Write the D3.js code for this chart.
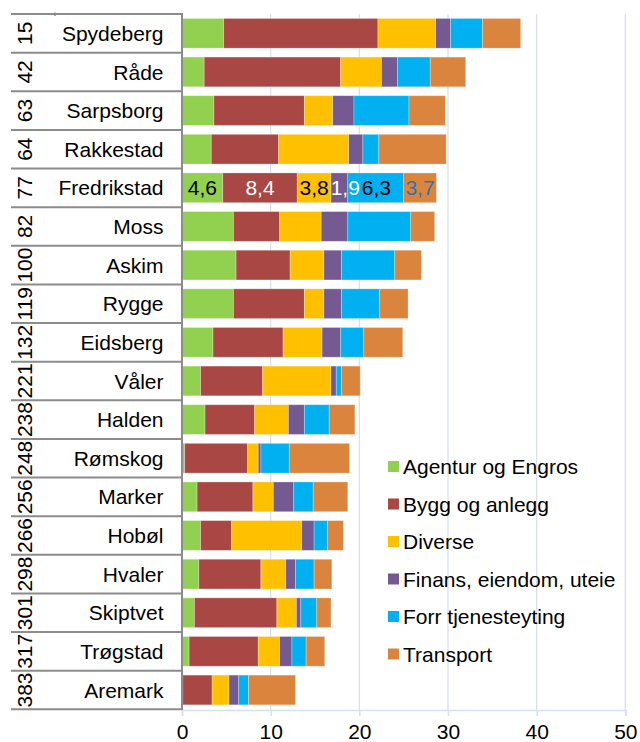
<!DOCTYPE html>
<html><head><meta charset="utf-8">
<script src="https://cdn.jsdelivr.net/npm/d3@7"></script>
<style>body{margin:0;background:#fff}svg{display:block;font-family:"Liberation Sans",Arial,sans-serif}</style>
</head><body>
<svg id="c" width="640" height="742"></svg>
<script>
const names = ["Spydeberg","Råde","Sarpsborg","Rakkestad","Fredrikstad","Moss","Askim","Rygge","Eidsberg","Våler","Halden","Rømskog","Marker","Hobøl","Hvaler","Skiptvet","Trøgstad","Aremark"];
const ranks = [15,42,63,64,77,82,100,119,132,221,238,248,256,266,298,301,317,383];
const seriesNames = ["Agentur og Engros","Bygg og anlegg","Diverse","Finans, eiendom, uteie","Forr tjenesteyting","Transport"];
const agentur   = [4.7,2.5,3.6,3.3,4.6,5.8,6.1,5.8,3.5,2.1,2.6,0.3,1.7,2.1,1.9,1.4,0.8,0.1];
const bygg      = [17.4,15.4,10.2,7.6,8.4,5.2,6.1,8.0,7.9,7.0,5.6,7.1,6.3,3.5,7.0,9.3,7.8,3.3];
const diverse   = [6.5,4.6,3.2,7.9,3.8,4.7,3.8,2.2,4.4,7.7,3.8,1.2,2.3,7.9,2.8,2.2,2.4,1.9];
const finans    = [1.7,1.8,2.4,1.6,1.9,3.0,2.0,2.0,2.1,0.6,1.8,0.3,2.3,1.4,1.1,0.5,1.4,1.1];
const forr      = [3.6,3.7,6.2,1.8,6.3,7.1,6.0,4.3,2.6,0.6,2.8,3.2,2.2,1.5,2.1,1.8,1.6,1.1];
const transport = [4.3,4.0,4.1,7.6,3.7,2.7,3.0,3.2,4.4,2.1,2.9,6.8,3.9,1.8,2.0,1.6,2.1,5.3];
const xTicks = [0,10,20,30,40,50];
const labelledRow = "Fredrikstad";
const colors = ["#92d050","#a94745","#ffc000","#745a91","#00b0f0","#db843d"];
const labelColors = ["#000","#fff","#000","#fff","#000","#2e75b6"];

const seriesVals = [agentur,bygg,diverse,finans,forr,transport];
const rows = names.map((n,i)=>{const o={name:n,rank:ranks[i]};seriesNames.forEach((s,k)=>o[s]=seriesVals[k][i]);return o;});
const stack = d3.stack().keys(seriesNames)(rows);

const svg = d3.select("#c");
const F = 21;
const x = d3.scaleLinear().domain([0,50]).range([182,625.3]);
const y = d3.scaleBand().domain(names).range([14,709.3]).paddingInner(0.23).paddingOuter(0.115);
const step = y.step();

// gridlines
svg.append("g").selectAll("line").data(xTicks.slice(1)).join("line")
  .attr("x1",d=>x(d)).attr("x2",d=>x(d)).attr("y1",14).attr("y2",710)
  .attr("stroke","#d7e0ee").attr("stroke-width",1.3);

// x axis
const xa = svg.append("g").attr("transform","translate(0,710)")
  .call(d3.axisBottom(x).tickValues(xTicks).tickSize(6).tickPadding(8).tickFormat(d3.format("d")));
xa.select(".domain").attr("stroke","#d7e0ee").attr("stroke-width",1.5);
xa.selectAll(".tick line").attr("stroke","#d7e0ee").attr("stroke-width",1.5);
xa.selectAll("text").attr("font-size",F).attr("fill","#000").attr("font-family","Liberation Sans, Arial, sans-serif");

// bars
svg.append("g").selectAll("g").data(stack).join("g").attr("fill",(d,i)=>colors[i])
  .selectAll("rect").data(d=>d).join("rect")
  .attr("x",d=>x(d[0])).attr("width",d=>Math.max(0,x(d[1])-x(d[0])))
  .attr("y",d=>y(d.data.name)).attr("height",y.bandwidth())
  .attr("stroke","rgba(255,255,255,0.35)").attr("stroke-width",0.8);

// data labels for one row
const ri = names.indexOf(labelledRow);
let prevEnd = -Infinity;
const lg = svg.append("g").attr("font-size",F);
stack.forEach((s,k)=>{
  const d = s[ri];
  const v = d[1]-d[0];
  const txt = d3.format(".1f")(v).replace(".",",");
  const w = txt.length*0.463*F;
  let cx = (x(d[0])+x(d[1]))/2;
  if (cx - w/2 < prevEnd + 2) cx = prevEnd + 2 + w/2;
  prevEnd = cx + w/2;
  lg.append("text").attr("x",cx).attr("y",y(labelledRow)+y.bandwidth()/2).attr("dy","0.36em")
    .attr("text-anchor","middle").attr("fill",labelColors[k]).text(txt);
});

// category table lines
const bounds = d3.range(names.length+1).map(i=>14+i*step);
svg.append("g").selectAll("line").data(bounds).join("line")
  .attr("x1",11).attr("x2",182).attr("y1",d=>d).attr("y2",d=>d)
  .attr("stroke","#8c8c8c").attr("stroke-width",2);
svg.append("line").attr("x1",55).attr("x2",55).attr("y1",12.5).attr("y2",16).attr("stroke","#8c8c8c").attr("stroke-width",1.5);
svg.append("line").attr("x1",182).attr("x2",182).attr("y1",13).attr("y2",710)
  .attr("stroke","#8c8c8c").attr("stroke-width",2);

// names
svg.append("g").selectAll("text").data(rows).join("text")
  .attr("x",163.5).attr("y",d=>y(d.name)+y.bandwidth()/2).attr("dy","0.36em")
  .attr("text-anchor","end").attr("font-size",F).attr("fill","#000").text(d=>d.name);

// ranks (rotated)
svg.append("g").selectAll("text").data(rows).join("text")
  .attr("transform",d=>`translate(24,${y(d.name)+y.bandwidth()/2}) rotate(-90)`)
  .attr("dy","0.36em").attr("text-anchor","middle").attr("font-size",F).attr("fill","#000")
  .text(d=>d.rank);

// legend
const leg = svg.append("g").selectAll("g").data(seriesNames).join("g")
  .attr("transform",(d,i)=>`translate(388,${466.5+i*37.5})`);
leg.append("rect").attr("x",0).attr("y",-5.5).attr("width",11).attr("height",11).attr("fill",(d,i)=>colors[i]);
leg.append("text").attr("x",15).attr("dy","0.36em").attr("font-size",F).attr("fill","#000").text(d=>d);
</script>
</body></html>
